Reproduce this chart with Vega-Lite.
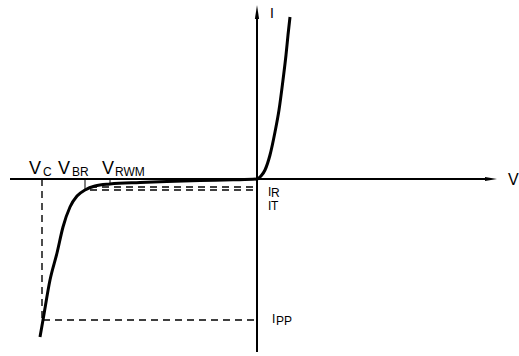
{
  "$schema": "https://vega.github.io/schema/vega-lite/v6.json",
  "width": 519,
  "height": 356,
  "padding": 0,
  "autosize": {"type": "fit", "contains": "padding"},
  "background": "white",
  "config": {"view": {"stroke": null}, "font": "Liberation Sans"},
  "datasets": {
    "curve": [
      {"v": -217, "i": -158}, {"v": -214, "i": -141}, {"v": -207, "i": -101},
      {"v": -200, "i": -74}, {"v": -194, "i": -48}, {"v": -187, "i": -28},
      {"v": -180, "i": -17}, {"v": -172, "i": -11}, {"v": -162, "i": -7},
      {"v": -147, "i": -5}, {"v": -117, "i": -3.5}, {"v": -90, "i": -2.5},
      {"v": -57, "i": -1.5}, {"v": -24, "i": -0.8}, {"v": 0, "i": 0},
      {"v": 4, "i": 3}, {"v": 8, "i": 9}, {"v": 13, "i": 24}, {"v": 18, "i": 47},
      {"v": 22, "i": 69}, {"v": 26, "i": 99}, {"v": 29, "i": 124},
      {"v": 31, "i": 144}, {"v": 33, "i": 162}
    ],
    "axes": [
      {"x1": -247, "x2": 230, "y1": 0, "y2": 0},
      {"x1": 0, "x2": 0, "y1": -173, "y2": 160}
    ],
    "dashes": [
      {"x1": -215, "x2": -215, "y1": 0, "y2": -141},
      {"x1": -214, "x2": 0, "y1": -141, "y2": -141},
      {"x1": -167, "x2": 0, "y1": -8, "y2": -8},
      {"x1": -167, "x2": 0, "y1": -11, "y2": -11}
    ],
    "ticks": [
      {"x1": -172, "x2": -172, "y1": 0, "y2": -11},
      {"x1": -147, "x2": -147, "y1": 0, "y2": -5}
    ],
    "labels": [
      {"t": "V", "x": -228, "y": 5, "role": "main"},
      {"t": "V", "x": -199, "y": 5, "role": "main"},
      {"t": "V", "x": -155, "y": 5, "role": "main"},
      {"t": "C", "x": -214, "y": 3, "role": "sub"},
      {"t": "BR", "x": -185, "y": 3, "role": "sub"},
      {"t": "RWM", "x": -142, "y": 3, "role": "sub"},
      {"t": "I", "x": 13, "y": 161, "role": "axis"},
      {"t": "V", "x": 251, "y": -6, "role": "axisv"},
      {"t": "I", "x": 11, "y": -17, "role": "small"},
      {"t": "I", "x": 11, "y": -31, "role": "small"},
      {"t": "I", "x": 15, "y": -144, "role": "small"},
      {"t": "R", "x": 14, "y": -18, "role": "smallsub"},
      {"t": "T", "x": 14, "y": -31, "role": "smallsub"},
      {"t": "PP", "x": 19, "y": -146, "role": "smallsub"}
    ],
    "arrowsUp": [{"x": 0, "y": 167}],
    "arrowsRight": [{"x": 234, "y": 0}]
  },
  "layer": [
    {
      "data": {"name": "axes"},
      "mark": {"type": "rule", "color": "black", "strokeWidth": 2},
      "encoding": {
        "x": {"field": "x1", "type": "quantitative", "scale": {"domain": [-257, 262], "nice": false, "zero": false}, "axis": null},
        "x2": {"field": "x2"},
        "y": {"field": "y1", "type": "quantitative", "scale": {"domain": [-177, 179], "nice": false, "zero": false}, "axis": null},
        "y2": {"field": "y2"}
      }
    },
    {
      "data": {"name": "dashes"},
      "mark": {"type": "rule", "color": "black", "strokeWidth": 1.4, "strokeDash": [7, 5]},
      "encoding": {
        "x": {"field": "x1", "type": "quantitative"},
        "x2": {"field": "x2"},
        "y": {"field": "y1", "type": "quantitative"},
        "y2": {"field": "y2"}
      }
    },
    {
      "data": {"name": "ticks"},
      "mark": {"type": "rule", "color": "black", "strokeWidth": 1},
      "encoding": {
        "x": {"field": "x1", "type": "quantitative"},
        "x2": {"field": "x2"},
        "y": {"field": "y1", "type": "quantitative"},
        "y2": {"field": "y2"}
      }
    },
    {
      "data": {"name": "curve"},
      "mark": {"type": "line", "color": "black", "strokeWidth": 3, "interpolate": "monotone"},
      "encoding": {
        "x": {"field": "v", "type": "quantitative"},
        "y": {"field": "i", "type": "quantitative"}
      }
    },
    {
      "data": {"name": "arrowsUp"},
      "mark": {"type": "point", "filled": true, "color": "black", "opacity": 1, "size": 196, "shape": "M0,-1L0.3,1L-0.3,1Z"},
      "encoding": {
        "x": {"field": "x", "type": "quantitative"},
        "y": {"field": "y", "type": "quantitative"}
      }
    },
    {
      "data": {"name": "arrowsRight"},
      "mark": {"type": "point", "filled": true, "color": "black", "opacity": 1, "size": 144, "shape": "M1,0L-1,-0.35L-1,0.35Z"},
      "encoding": {
        "x": {"field": "x", "type": "quantitative"},
        "y": {"field": "y", "type": "quantitative"}
      }
    },
    {
      "data": {"name": "labels"},
      "transform": [{"filter": "datum.role == 'main'"}],
      "mark": {"type": "text", "align": "left", "baseline": "alphabetic", "fontSize": 18, "color": "black"},
      "encoding": {
        "x": {"field": "x", "type": "quantitative"},
        "y": {"field": "y", "type": "quantitative"},
        "text": {"field": "t"}
      }
    },
    {
      "data": {"name": "labels"},
      "transform": [{"filter": "datum.role == 'sub'"}],
      "mark": {"type": "text", "align": "left", "baseline": "alphabetic", "fontSize": 12, "color": "black"},
      "encoding": {
        "x": {"field": "x", "type": "quantitative"},
        "y": {"field": "y", "type": "quantitative"},
        "text": {"field": "t"}
      }
    },
    {
      "data": {"name": "labels"},
      "transform": [{"filter": "datum.role == 'axis'"}],
      "mark": {"type": "text", "align": "left", "baseline": "alphabetic", "fontSize": 14, "color": "black"},
      "encoding": {
        "x": {"field": "x", "type": "quantitative"},
        "y": {"field": "y", "type": "quantitative"},
        "text": {"field": "t"}
      }
    },
    {
      "data": {"name": "labels"},
      "transform": [{"filter": "datum.role == 'axisv'"}],
      "mark": {"type": "text", "align": "left", "baseline": "alphabetic", "fontSize": 16, "color": "black"},
      "encoding": {
        "x": {"field": "x", "type": "quantitative"},
        "y": {"field": "y", "type": "quantitative"},
        "text": {"field": "t"}
      }
    },
    {
      "data": {"name": "labels"},
      "transform": [{"filter": "datum.role == 'small'"}],
      "mark": {"type": "text", "align": "left", "baseline": "alphabetic", "fontSize": 12, "color": "black"},
      "encoding": {
        "x": {"field": "x", "type": "quantitative"},
        "y": {"field": "y", "type": "quantitative"},
        "text": {"field": "t"}
      }
    },
    {
      "data": {"name": "labels"},
      "transform": [{"filter": "datum.role == 'smallsub'"}],
      "mark": {"type": "text", "align": "left", "baseline": "alphabetic", "fontSize": 12, "color": "black"},
      "encoding": {
        "x": {"field": "x", "type": "quantitative"},
        "y": {"field": "y", "type": "quantitative"},
        "text": {"field": "t"}
      }
    }
  ]
}
